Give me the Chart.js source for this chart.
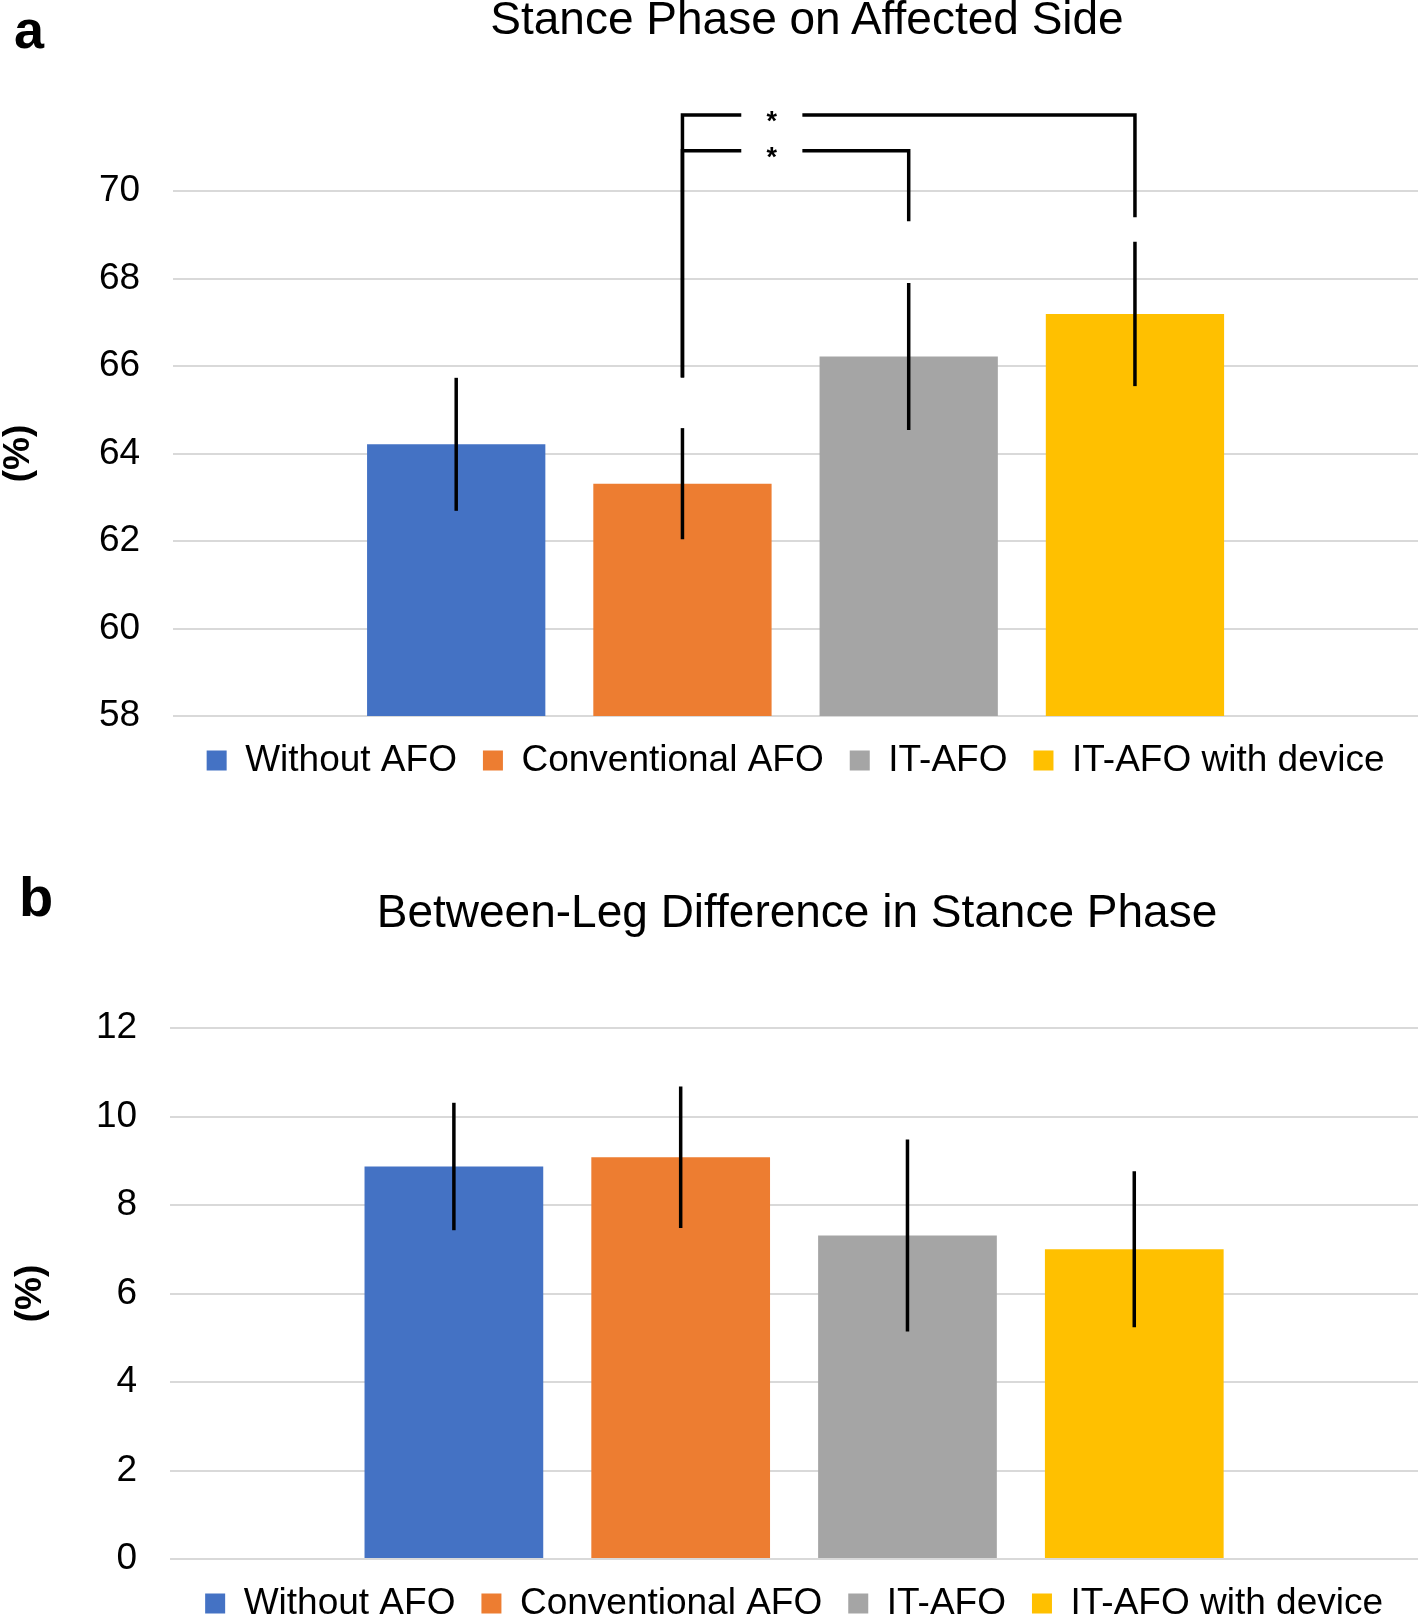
<!DOCTYPE html>
<html><head><meta charset="utf-8">
<script src="https://cdn.jsdelivr.net/npm/chart.js@4.4.1/dist/chart.umd.min.js"></script>
<style>
html,body{margin:0;padding:0;background:#fff;overflow:hidden;}
#wrap{position:relative;width:1418px;height:1618px;overflow:hidden;background:#fff;}
canvas{position:absolute;left:0;}
.t{position:absolute;font-family:"Liberation Sans",Arial,sans-serif;line-height:1;white-space:nowrap;color:#000;}
</style></head><body>
<div id="wrap">
<canvas id="ca" width="1418" height="800" style="top:0px"></canvas>
<canvas id="cb" width="1418" height="830" style="top:820px"></canvas>
<div class="t" style="left:14px;top:2px;font-size:54px;font-weight:bold">a</div>
<div class="t" style="left:807px;top:-5px;font-size:46px;transform:translateX(-50%)">Stance Phase on Affected Side</div>
<div class="t" style="left:19px;top:869px;font-size:56px;font-weight:bold">b</div>
<div class="t" style="left:797px;top:888px;font-size:46px;transform:translateX(-50%)">Between-Leg Difference in Stance Phase</div>
</div>
<script>
// ---- data ----
const categories = ["Without AFO", "Conventional AFO", "IT-AFO", "IT-AFO with device"];
const stanceMean = [64.21, 63.31, 66.22, 67.19];
const stanceSD   = [1.52, 1.27, 1.68, 1.65];
const diffMean   = [8.87, 9.08, 7.31, 7.00];
const diffSD     = [1.44, 1.60, 2.17, 1.76];
const stanceTicks = [58, 60, 62, 64, 66, 68, 70];
const diffTicks   = [0, 2, 4, 6, 8, 10, 12];
// significance brackets (panel a): bar indices, bracket level, leg ends (in %)
const sigFrom    = [1, 1];
const sigTo      = [3, 2];
const sigLevel   = [71.74, 70.92];
const sigFromEnd = [65.74, 65.74];
const sigToEnd   = [69.40, 69.31];
const sigLabel   = ["*", "*"];

// ---- style ----
const colors = ["#4472C4", "#ED7D31", "#A5A5A5", "#FFC000"];
const FONT = '"Liberation Sans", Arial, sans-serif';

function errorBars(sds) {
  return {
    id: 'errorBars',
    afterDatasetsDraw(chart) {
      const ctx = chart.ctx, y = chart.scales.y;
      ctx.save();
      ctx.strokeStyle = '#000';
      ctx.lineWidth = 3.5;
      chart.data.datasets.forEach((ds, i) => {
        const el = chart.getDatasetMeta(i).data[0];
        const v = ds.data[0];
        ctx.beginPath();
        ctx.moveTo(el.x, y.getPixelForValue(v + sds[i]));
        ctx.lineTo(el.x, y.getPixelForValue(v - sds[i]));
        ctx.stroke();
      });
      ctx.restore();
    }
  };
}

const sigPlugin = {
  id: 'sig',
  afterDatasetsDraw(chart) {
    const ctx = chart.ctx, y = chart.scales.y;
    const xOf = i => chart.getDatasetMeta(i).data[0].x;
    const slot = xOf(1) - xOf(0);
    ctx.save();
    ctx.strokeStyle = '#000';
    ctx.lineWidth = 3.5;
    ctx.lineJoin = 'miter';
    ctx.lineCap = 'butt';
    for (let k = 0; k < sigFrom.length; k++) {
      const x1 = xOf(sigFrom[k]), x2 = xOf(sigTo[k]);
      const yl = y.getPixelForValue(sigLevel[k]);
      const g1 = x1 + 0.26 * slot, g2 = x1 + 0.53 * slot;
      ctx.beginPath();
      ctx.moveTo(x1, y.getPixelForValue(sigFromEnd[k]));
      ctx.lineTo(x1, yl);
      ctx.lineTo(g1, yl);
      ctx.stroke();
      ctx.beginPath();
      ctx.moveTo(g2, yl);
      ctx.lineTo(x2, yl);
      ctx.lineTo(x2, y.getPixelForValue(sigToEnd[k]));
      ctx.stroke();
      ctx.fillStyle = '#000';
      ctx.font = 'bold 27px ' + FONT;
      ctx.textAlign = 'center';
      ctx.textBaseline = 'alphabetic';
      ctx.fillText(sigLabel[k], (g1 + g2) / 2, yl + 15);
    }
    ctx.restore();
  }
};

function makeChart(id, means, sds, ticks, o, extra) {
  return new Chart(document.getElementById(id), {
    type: 'bar',
    data: {
      labels: [''],
      datasets: categories.map((c, i) => ({
        label: c,
        data: [means[i]],
        backgroundColor: colors[i],
        borderWidth: 0,
        categoryPercentage: 0.727,
        barPercentage: 0.788
      }))
    },
    options: {
      responsive: false,
      animation: false,
      layout: { padding: { top: o.padTop, bottom: o.padBottom, left: 0, right: 0 } },
      plugins: {
        legend: {
          position: 'bottom',
          fullSize: false,
          labels: { boxWidth: 20, boxHeight: 20, padding: 26, color: '#000', font: { size: 37, family: FONT } }
        },
        title: { display: false },
        tooltip: { enabled: false }
      },
      scales: {
        x: { display: false },
        y: {
          min: ticks[0],
          max: ticks[ticks.length - 1],
          ticks: { stepSize: ticks[1] - ticks[0], color: '#000', padding: 33, font: { size: 37, family: FONT } },
          grid: { color: '#d9d9d9', lineWidth: 2, drawTicks: false },
          border: { display: false },
          title: {
            display: true, text: '(%)', color: '#000',
            font: { size: 37, weight: 'bold', family: FONT, lineHeight: 1 },
            padding: { top: o.tTop, bottom: o.tBot }
          }
        }
      }
    },
    plugins: [errorBars(sds)].concat(extra)
  });
}

makeChart('ca', stanceMean, stanceSD, stanceTicks, { padTop: 191, padBottom: 11, tTop: 0, tBot: 29 }, [sigPlugin]);
makeChart('cb', diffMean, diffSD, diffTicks, { padTop: 208, padBottom: 18, tTop: 12, tBot: 14 }, []);
</script>
</body></html>
